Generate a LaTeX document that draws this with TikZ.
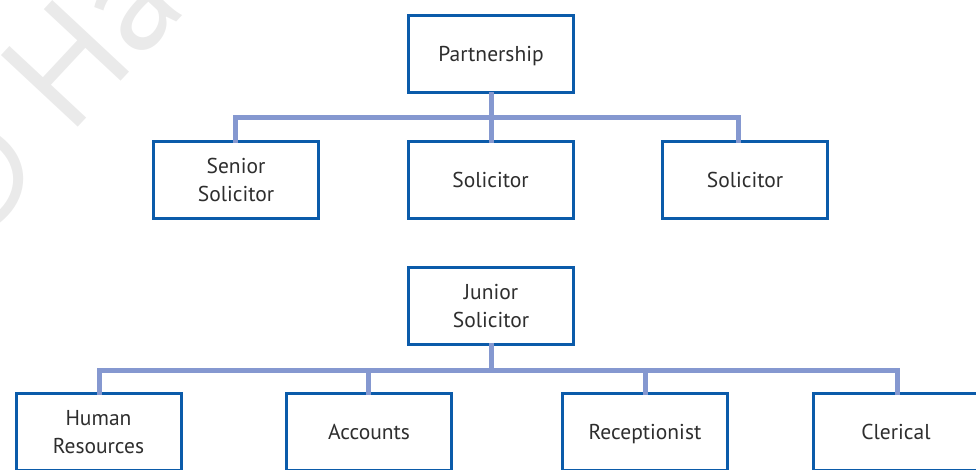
\documentclass[tikz,border=0pt]{standalone}
\usepackage{fontspec}
\setmainfont{PT Sans}
\begin{document}
\begin{tikzpicture}[x=1pt,y=-1pt,
  box/.style={draw=boxblue, line width=3pt, fill=white, minimum width=165pt,
    minimum height=77pt, align=center, text=textgrey, inner sep=0pt,
    text depth=-4pt, font=\fontsize{21.5}{28}\selectfont},
  link/.style={draw=linkblue, line width=5pt, line join=miter, line cap=rect}]
\definecolor{boxblue}{HTML}{0B5BAA}
\definecolor{linkblue}{HTML}{8598D0}
\definecolor{textgrey}{HTML}{2E2E2E}
\definecolor{markgrey}{HTML}{EAEAEA}
\useasboundingbox (0,0) rectangle (976,469);
\clip (0,0) rectangle (976,469);

% faint publisher mark
\node[text=markgrey, rotate=47, anchor=base west, inner sep=0pt,
  font=\fontsize{150}{150}\selectfont] (mark) at (-40,254) {\textcopyright\ Hachette};

% junction points of the two connector bars
\coordinate (barA) at (491,117);
\coordinate (barB) at (491,370);

% upper level
\node[box] (partner) at (491,54) {Partnership};
\node[box] (senior) at (236,180) {Senior\\Solicitor};
\node[box] (solA) at (490.5,180) {Solicitor};
\node[box] (solB) at (745,180) {Solicitor};

% lower level
\node[box] (junior) at (491,305.5) {Junior\\Solicitor};
\node[box] (hr) at (98.5,432) {Human\\Resources};
\node[box] (acc) at (369,432) {Accounts};
\node[box] (rec) at (645,432) {Receptionist};
\node[box] (cler) at (896,432) {Clerical};

% connectors
\draw[link] ([xshift=-1pt]senior.north) |- (barA) -| ([xshift=-7pt]solB.north);
\draw[link] (partner.south) -- (partner.south |- solA.north);
\draw[link] ([xshift=0.5pt]hr.north) |- (barB) -| ([xshift=1pt]cler.north);
\draw[link] (junior.south) -- (barB);
\draw[link] ([xshift=-1pt]acc.north) -- ([xshift=-1pt]acc.north |- barB);
\draw[link] (rec.north) -- (rec.north |- barB);
\end{tikzpicture}
\end{document}
